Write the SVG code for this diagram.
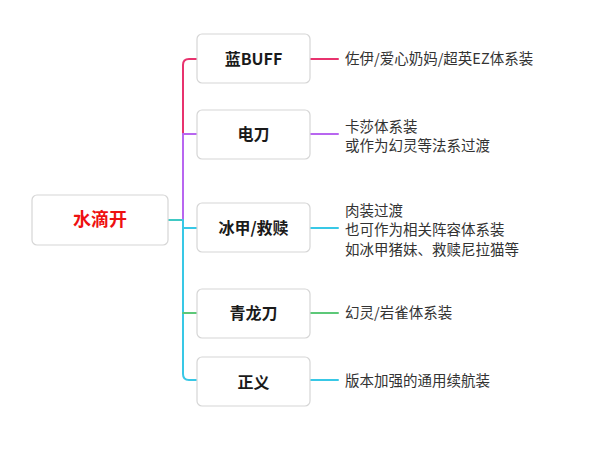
<svg xmlns="http://www.w3.org/2000/svg" width="600" height="461" viewBox="0 0 600 461">
<style>
.box{fill:#ffffff;stroke:#d6d6d6;stroke-width:1.2}
.root{font-family:"Noto Sans CJK SC","Noto Sans",sans-serif;font-size:18px;font-weight:bold;fill:#ee1111}
.child{font-family:"Noto Sans CJK SC","Noto Sans",sans-serif;font-size:16px;font-weight:bold;fill:#1a1a1a}
.leaf{font-family:"Noto Sans CJK SC","Noto Sans",sans-serif;font-size:14.5px;fill:#333333}
.ln{fill:none;stroke-width:2;stroke-linecap:round}
</style>
<rect width="600" height="461" fill="#ffffff"/>
<g id="connectors">
  <path class="ln" stroke="#40c9c4" d="M168,220 H183"/>
  <path class="ln" stroke="#e8336e" d="M197,59 H189 Q183,59 183,65 V134"/>
  <path class="ln" stroke="#b866f0" d="M183,134 V220"/>
  <path class="ln" stroke="#b866f0" d="M183,134 H197"/>
  <path class="ln" stroke="#38c8e6" d="M183,220 V374 Q183,380 189,380 H197"/>
  <path class="ln" stroke="#38c8e6" d="M183,228 H197"/>
  <path class="ln" stroke="#5cc878" d="M183,313 H197"/>
  <path class="ln" stroke="#e8336e" d="M310,59 H338"/>
  <path class="ln" stroke="#b866f0" d="M310,134 H338"/>
  <path class="ln" stroke="#38c8e6" d="M310,228 H338"/>
  <path class="ln" stroke="#5cc878" d="M310,313 H338"/>
  <path class="ln" stroke="#38c8e6" d="M310,380 H338"/>
</g>
<g id="root">
  <rect class="box" x="32" y="195" width="136" height="50" rx="5"/>
  <text class="root" x="100" y="226" text-anchor="middle">水滴开</text>
</g>
<g id="n-lanbuff">
  <rect class="box" x="197" y="34" width="113" height="49" rx="5"/>
  <text class="child" x="253.5" y="65" text-anchor="middle">蓝BUFF</text>
</g>
<g id="n-diandao">
  <rect class="box" x="197" y="110" width="113" height="49" rx="5"/>
  <text class="child" x="253.5" y="140" text-anchor="middle">电刀</text>
</g>
<g id="n-bingjia">
  <rect class="box" x="197" y="203" width="113" height="49" rx="5"/>
  <text class="child" x="253.5" y="234" text-anchor="middle">冰甲/救赎</text>
</g>
<g id="n-qinglong">
  <rect class="box" x="197" y="289" width="113" height="49" rx="5"/>
  <text class="child" x="253.5" y="319" text-anchor="middle">青龙刀</text>
</g>
<g id="n-zhengyi">
  <rect class="box" x="197" y="357" width="113" height="49" rx="5"/>
  <text class="child" x="253.5" y="388" text-anchor="middle">正义</text>
</g>
<g id="l-lanbuff">
  <text class="leaf" x="345" y="64">佐伊/爱心奶妈/超英EZ体系装</text>
</g>
<g id="l-diandao">
  <text class="leaf" x="345" y="132">卡莎体系装</text>
  <text class="leaf" x="345" y="151">或作为幻灵等法系过渡</text>
</g>
<g id="l-bingjia">
  <text class="leaf" x="345" y="216">肉装过渡</text>
  <text class="leaf" x="345" y="235">也可作为相关阵容体系装</text>
  <text class="leaf" x="345" y="255">如冰甲猪妹、救赎尼拉猫等</text>
</g>
<g id="l-qinglong">
  <text class="leaf" x="345" y="318">幻灵/岩雀体系装</text>
</g>
<g id="l-zhengyi">
  <text class="leaf" x="345" y="386">版本加强的通用续航装</text>
</g>
</svg>
